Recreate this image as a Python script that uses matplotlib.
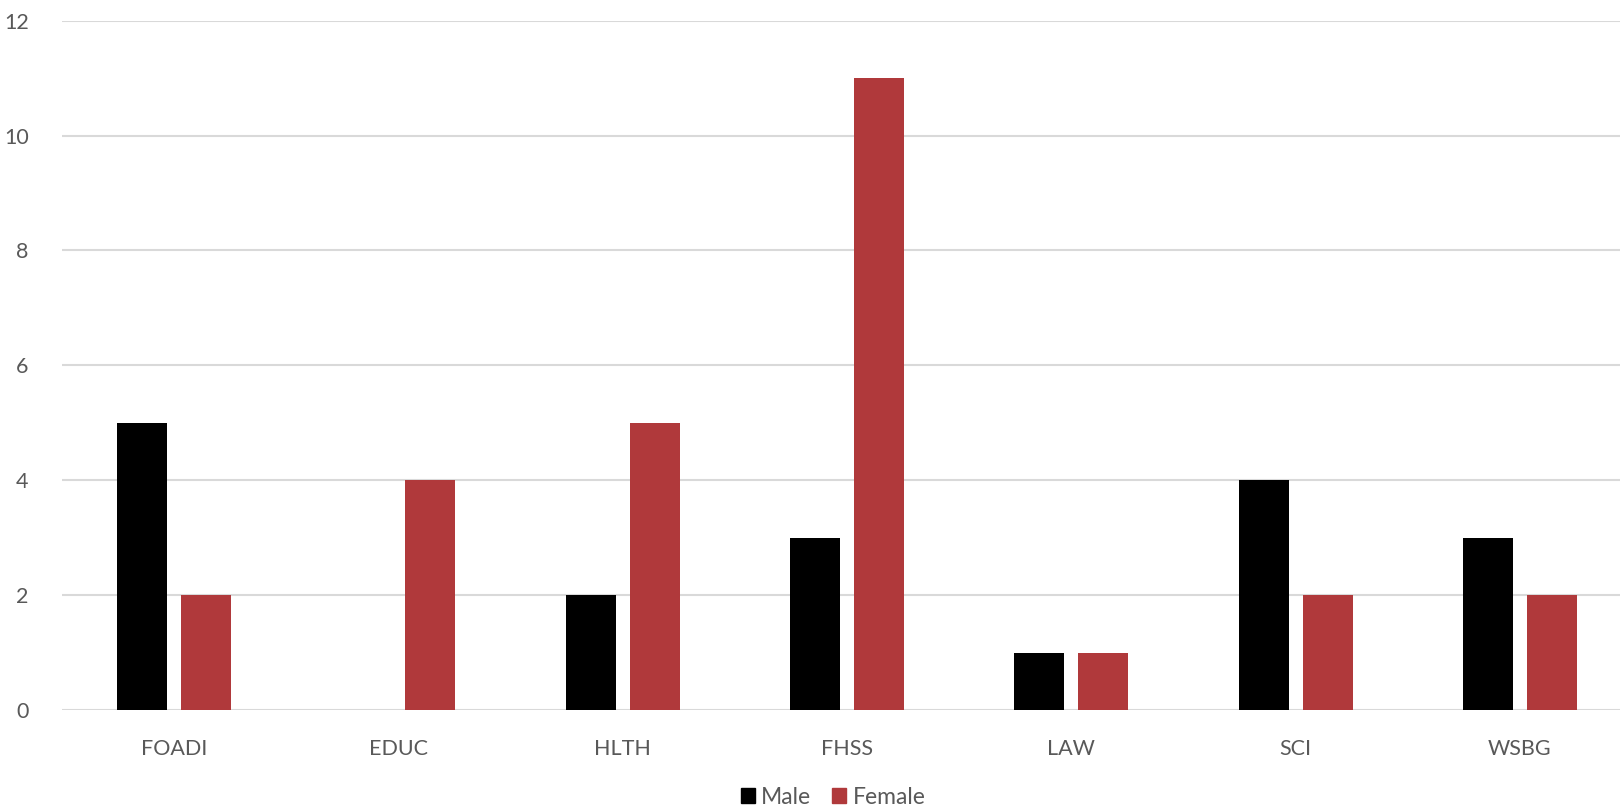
import matplotlib
matplotlib.use("Agg")
import matplotlib.pyplot as plt
import numpy as np
from matplotlib.patches import Patch

categories = ["FOADI", "EDUC", "HLTH", "FHSS", "LAW", "SCI", "WSBG"]
male = [5, 0, 2, 3, 1, 4, 3]
female = [2, 4, 5, 11, 1, 2, 2]
yticks = [0, 2, 4, 6, 8, 10, 12]

plt.rcParams['font.family'] = ['Lato', 'DejaVu Sans']
txt = '#595959'
red = '#B0393B'

fig = plt.figure(figsize=(16.2, 8.06), dpi=100)
ax = fig.add_axes([62/1620, 1-710/806, 1570/1620, (710-20.7)/806])

x = np.arange(len(categories))
w = 0.223
gap = 0.0624
ax.bar(x - (w+gap)/2, male, w, color='black', label='Male', zorder=3)
ax.bar(x + (w+gap)/2, female, w, color=red, label='Female', zorder=3)

ax.set_xlim(-0.5, len(categories)-0.5)
ax.set_ylim(0, 12)
ax.set_yticks(yticks)
ax.set_xticks(x)
ax.set_xticklabels(categories)
ax.yaxis.grid(True, color='#D9D9D9', linewidth=1.5, zorder=0)
ax.set_axisbelow(True)
for s in ax.spines.values():
    s.set_visible(False)
ax.tick_params(axis='both', length=0, colors=txt, labelsize=15.5)
ax.tick_params(axis='y', pad=24)
ax.tick_params(axis='x', pad=21)

handles = [Patch(color='black', label='Male'), Patch(color=red, label='Female')]
leg = fig.legend(handles=handles, loc='center', bbox_to_anchor=(833/1620, 1-797/806),
                 ncol=2, frameon=False, fontsize=16.5, handlelength=0.62, handleheight=0.62,
                 handletextpad=0.28, columnspacing=0.9)
for t in leg.get_texts():
    t.set_color(txt)

fig.savefig('out.png', dpi=100)
